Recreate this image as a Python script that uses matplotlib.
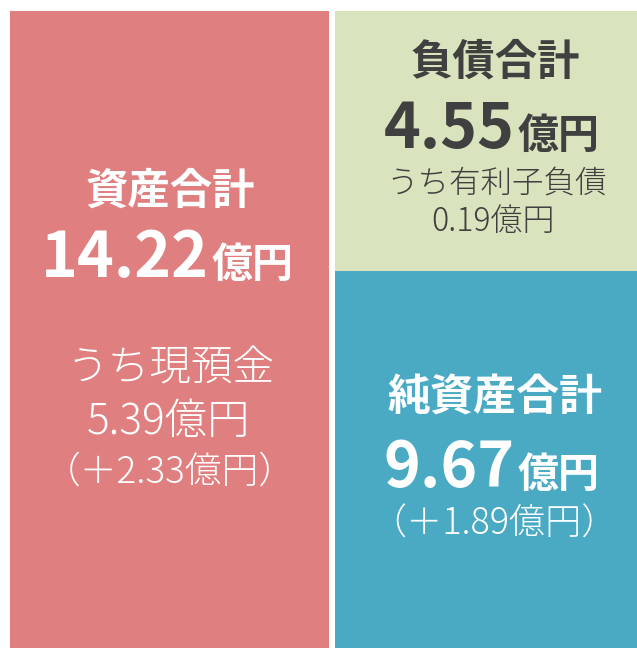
import matplotlib
matplotlib.use("Agg")
import matplotlib.pyplot as plt

plt.rcParams['font.family'] = ['Noto Sans CJK JP', 'DejaVu Sans']

# ---- data ----
blocks = ["資産合計", "負債合計", "純資産合計"]
totals = [14.22, 4.55, 9.67]
unit = "億円"
sub_labels = ["うち現預金", "うち有利子負債", None]
sub_values = [5.39, 0.19, None]
changes = [2.33, None, 1.89]

# ---- style / layout (pixel space) ----
W, H = 637, 648
colors = ["#DF7F7F", "#D9E4BE", "#4AAAC4"]
text_colors = ["white", "#404040", "white"]
# block geometry: x, width, top, height
geom = [(10, 319, 11, 637), (335, 302, 11, 260), (335, 302, 271, 377)]

fig = plt.figure(figsize=(W / 100, H / 100), dpi=100)
ax = fig.add_axes([0, 0, 1, 1])
ax.set_xlim(0, W)
ax.set_ylim(H, 0)
ax.axis("off")

for (x, w, top, h), c in zip(geom, colors):
    ax.bar(x, h, width=w, bottom=top, align="edge", color=c, linewidth=0)

def big_number(xsplit, base, val, color):
    ax.text(xsplit, base, f"{val:.2f}", ha="right", va="baseline",
            fontsize=45, fontweight="bold", color=color)
    ax.text(xsplit + 3, base, unit, ha="left", va="baseline",
            fontsize=29.5, fontweight="bold", color=color)

# Assets
ax.text(170, 192, blocks[0], ha="center", va="center", fontsize=30.5,
        fontweight="bold", color=text_colors[0])
big_number(209, 277, totals[0], text_colors[0])
ax.text(171, 369, sub_labels[0], ha="center", va="center", fontsize=30,
        fontweight="light", color=text_colors[0])
ax.text(169, 422, f"{sub_values[0]:.2f}{unit}", ha="center", va="center",
        fontsize=30.5, fontweight="light", color=text_colors[0])
ax.text(170, 472, f"（＋{changes[0]:.2f}{unit}）", ha="center", va="center",
        fontsize=26.5, fontweight="light", color=text_colors[0])

# Liabilities
ax.text(495, 63, blocks[1], ha="center", va="center", fontsize=30.5,
        fontweight="bold", color=text_colors[1])
big_number(515, 148, totals[1], text_colors[1])
ax.text(497, 184, sub_labels[1], ha="center", va="center", fontsize=22.7,
        fontweight="light", color=text_colors[1])
ax.text(493, 222, f"{sub_values[1]:.2f}{unit}", ha="center", va="center",
        fontsize=23, fontweight="light", color=text_colors[1])

# Net assets
ax.text(495, 398, blocks[2], ha="center", va="center", fontsize=31,
        fontweight="bold", color=text_colors[2])
big_number(515, 487, totals[2], text_colors[2])
ax.text(494, 524, f"（＋{changes[2]:.2f}{unit}）", ha="center", va="center",
        fontsize=26, fontweight="light", color=text_colors[2])

fig.savefig("out.png", dpi=100)
